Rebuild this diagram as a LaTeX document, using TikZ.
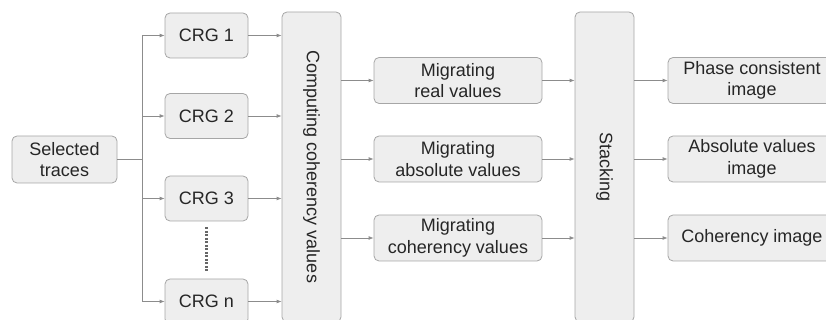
\documentclass[tikz,border=0pt]{standalone}
\usepackage{fontspec}
\setmainfont{Liberation Sans}
\usetikzlibrary{positioning, arrows.meta, calc}
\definecolor{boxfill}{HTML}{EEEEEE}
\definecolor{boxline}{HTML}{A6A6A6}
\definecolor{linkgray}{HTML}{8C8C8C}
\definecolor{textgray}{HTML}{262626}
\tikzset{
x=1pt, y=1pt,
>={Latex[width=4pt,length=5pt]},
every node/.append style={font=\fontsize{18}{21.5}\selectfont, text=textgray},
block/.style={draw=boxline, fill=boxfill, rounded corners=5pt, line width=0.8pt, align=center, inner sep=0pt},
crg/.style={block, minimum width=83, minimum height=45},
tall/.style={block, minimum width=59, minimum height=310},
wide/.style={block, minimum width=168, minimum height=46},
link/.style={->, draw=linkgray, line width=0.8pt},
}

\begin{document}
\begin{tikzpicture}
            \useasboundingbox (0,0) rectangle (826,320);

            \node[block, minimum width=105, minimum height=47] (sel) at (64.5,160.5) {Selected\\traces};
            \coordinate (split) at (142,160.5);
            \node[crg] (crg1) at (206.5,284.5) {CRG 1};
            \node[crg] (crg2) at (206.5,204) {CRG 2};
            \node[crg] (crg3) at (206.5,121.5) {CRG 3};
            \node[crg] (crgn) at (206.5,18.5) {CRG n};
            \node[tall] (comp) at (311.5,153) {\rotatebox{-90}{Computing coherency values}};
            \node[wide] (mig1) at (458,239.5) {Migrating\\real values};
            \node[wide] (mig2) at (458,161) {Migrating\\absolute values};
            \node[wide] (mig3) at (458,82) {Migrating\\coherency values};
            \node[tall] (stack) at (604.5,153) {\rotatebox{-90}{Stacking}};
            \node[wide] (out1) at (752,239.5) {Phase consistent\\image};
            \node[wide] (out2) at (752,161) {Absolute values\\image};
            \node[wide] (out3) at (752,82) {Coherency image};

            % Links from the selected traces
            \draw[draw=linkgray, line width=0.8pt] (sel) -- (split);
            \foreach \g in {crg1, crg2, crg3, crgn}
                \draw[link] (split) |- (\g);
            \draw[draw=black!60, line width=2.5pt, dash pattern=on 2pt off 1.5pt] ([yshift=-6]crg3.south) -- ([yshift=6]crgn.north);

            % Links into the coherency values
            \foreach \g in {crg1, crg2, crg3, crgn}
                \draw[link] (\g.east) -- (\g.east -| comp.west);

            % Links from the coherency values
            \foreach \m in {mig1, mig2, mig3}
                \draw[link] (\m.west -| comp.east) -- (\m.west);

            % Links into the stacking
            \foreach \m in {mig1, mig2, mig3}
                \draw[link] (\m.east) -- (\m.east -| stack.west);

            % Links to the images
            \foreach \o in {out1, out2, out3}
                \draw[link] (\o.west -| stack.east) -- (\o.west);
\end{tikzpicture}
\end{document}
